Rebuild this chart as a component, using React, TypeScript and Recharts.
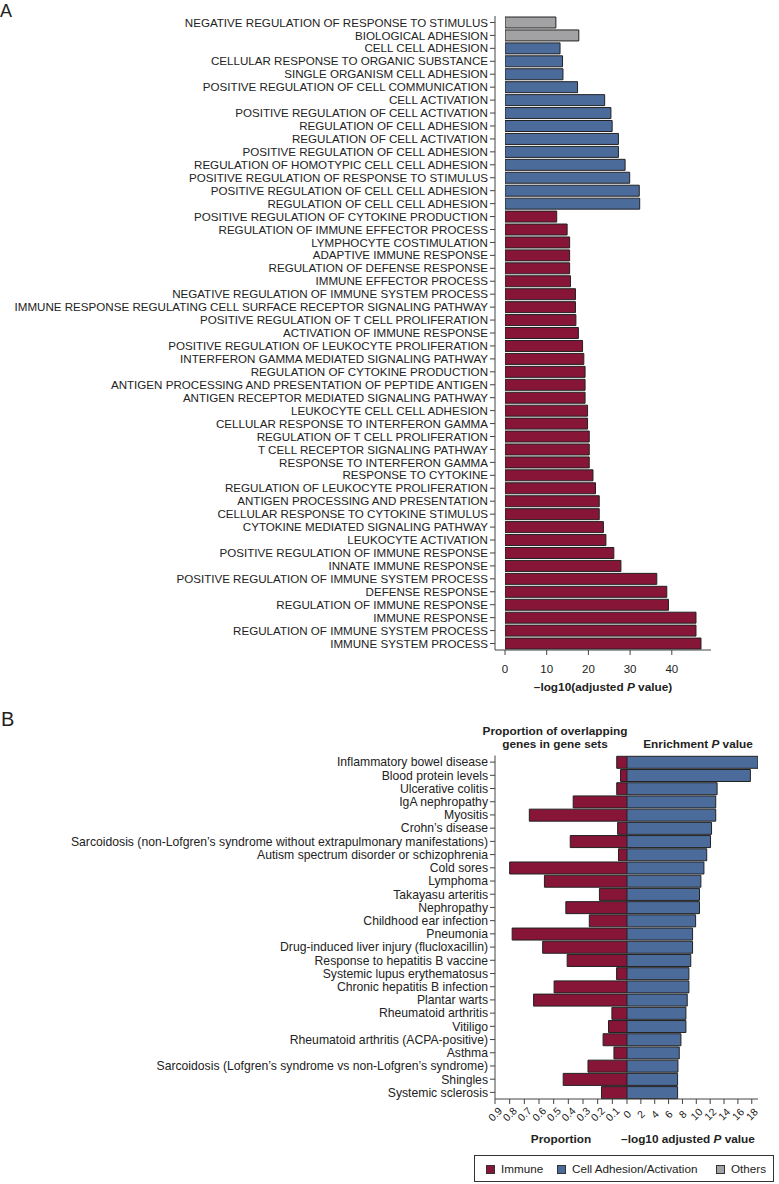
import React from 'react';
import { BarChart, Bar, XAxis, YAxis, Cell } from 'recharts';

const FONT = '"Liberation Sans", Arial, Helvetica, sans-serif';
const IMMUNE = '#861538';
const ADHESION = '#4b6b9b';
const OTHERS = '#a2a2a4';
const EDGE = '#222';
const AXIS = '#444';
const TEXT = '#222';

// Panel A: GO terms, top to bottom
const goTerms = [
  'NEGATIVE REGULATION OF RESPONSE TO STIMULUS',
  'BIOLOGICAL ADHESION',
  'CELL CELL ADHESION',
  'CELLULAR RESPONSE TO ORGANIC SUBSTANCE',
  'SINGLE ORGANISM CELL ADHESION',
  'POSITIVE REGULATION OF CELL COMMUNICATION',
  'CELL ACTIVATION',
  'POSITIVE REGULATION OF CELL ACTIVATION',
  'REGULATION OF CELL ADHESION',
  'REGULATION OF CELL ACTIVATION',
  'POSITIVE REGULATION OF CELL ADHESION',
  'REGULATION OF HOMOTYPIC CELL CELL ADHESION',
  'POSITIVE REGULATION OF RESPONSE TO STIMULUS',
  'POSITIVE REGULATION OF CELL CELL ADHESION',
  'REGULATION OF CELL CELL ADHESION',
  'POSITIVE REGULATION OF CYTOKINE PRODUCTION',
  'REGULATION OF IMMUNE EFFECTOR PROCESS',
  'LYMPHOCYTE COSTIMULATION',
  'ADAPTIVE IMMUNE RESPONSE',
  'REGULATION OF DEFENSE RESPONSE',
  'IMMUNE EFFECTOR PROCESS',
  'NEGATIVE REGULATION OF IMMUNE SYSTEM PROCESS',
  'IMMUNE RESPONSE REGULATING CELL SURFACE RECEPTOR SIGNALING PATHWAY',
  'POSITIVE REGULATION OF T CELL PROLIFERATION',
  'ACTIVATION OF IMMUNE RESPONSE',
  'POSITIVE REGULATION OF LEUKOCYTE PROLIFERATION',
  'INTERFERON GAMMA MEDIATED SIGNALING PATHWAY',
  'REGULATION OF CYTOKINE PRODUCTION',
  'ANTIGEN PROCESSING AND PRESENTATION OF PEPTIDE ANTIGEN',
  'ANTIGEN RECEPTOR MEDIATED SIGNALING PATHWAY',
  'LEUKOCYTE CELL CELL ADHESION',
  'CELLULAR RESPONSE TO INTERFERON GAMMA',
  'REGULATION OF T CELL PROLIFERATION',
  'T CELL RECEPTOR SIGNALING PATHWAY',
  'RESPONSE TO INTERFERON GAMMA',
  'RESPONSE TO CYTOKINE',
  'REGULATION OF LEUKOCYTE PROLIFERATION',
  'ANTIGEN PROCESSING AND PRESENTATION',
  'CELLULAR RESPONSE TO CYTOKINE STIMULUS',
  'CYTOKINE MEDIATED SIGNALING PATHWAY',
  'LEUKOCYTE ACTIVATION',
  'POSITIVE REGULATION OF IMMUNE RESPONSE',
  'INNATE IMMUNE RESPONSE',
  'POSITIVE REGULATION OF IMMUNE SYSTEM PROCESS',
  'DEFENSE RESPONSE',
  'REGULATION OF IMMUNE RESPONSE',
  'IMMUNE RESPONSE',
  'REGULATION OF IMMUNE SYSTEM PROCESS',
  'IMMUNE SYSTEM PROCESS',
];

const goLogP = [
  12.2, 17.7, 13.2, 13.8, 13.9, 17.4, 23.9, 25.4, 25.7, 27.2, 27.2, 28.8, 29.9, 32.2, 32.3,
  12.4, 14.9, 15.5, 15.5, 15.5, 15.7, 16.9, 16.9, 17.0, 17.6, 18.6, 18.9, 19.2, 19.2, 19.2,
  19.8, 19.8, 20.2, 20.2, 20.2, 21.1, 21.7, 22.6, 22.6, 23.6, 24.2, 26.1, 27.8, 36.4, 38.8,
  39.2, 45.8, 45.8, 47.0,
];

// O = others, C = cell adhesion/activation, I = immune
const goGroup = [
  'O', 'O', 'C', 'C', 'C', 'C', 'C', 'C', 'C', 'C', 'C', 'C', 'C', 'C', 'C',
  'I', 'I', 'I', 'I', 'I', 'I', 'I', 'I', 'I', 'I', 'I', 'I', 'I', 'I', 'I',
  'I', 'I', 'I', 'I', 'I', 'I', 'I', 'I', 'I', 'I', 'I', 'I', 'I', 'I', 'I',
  'I', 'I', 'I', 'I',
];

const goTicks = [0, 10, 20, 30, 40];

// Panel B: GWAS traits
const traits = [
  'Inflammatory bowel disease',
  'Blood protein levels',
  'Ulcerative colitis',
  'IgA nephropathy',
  'Myositis',
  'Crohn’s disease',
  'Sarcoidosis (non-Lofgren’s syndrome without extrapulmonary manifestations)',
  'Autism spectrum disorder or schizophrenia',
  'Cold sores',
  'Lymphoma',
  'Takayasu arteritis',
  'Nephropathy',
  'Childhood ear infection',
  'Pneumonia',
  'Drug-induced liver injury (flucloxacillin)',
  'Response to hepatitis B vaccine',
  'Systemic lupus erythematosus',
  'Chronic hepatitis B infection',
  'Plantar warts',
  'Rheumatoid arthritis',
  'Vitiligo',
  'Rheumatoid arthritis (ACPA-positive)',
  'Asthma',
  'Sarcoidosis (Lofgren’s syndrome vs non-Lofgren’s syndrome)',
  'Shingles',
  'Systemic sclerosis',
];

const traitProportion = [
  0.07, 0.044, 0.07, 0.367, 0.666, 0.064, 0.387, 0.058, 0.8, 0.563, 0.188, 0.417, 0.257,
  0.783, 0.575, 0.408, 0.071, 0.497, 0.637, 0.103, 0.126, 0.163, 0.089, 0.266, 0.435, 0.174,
];

const traitLogP = [
  18.9, 17.8, 13.0, 12.8, 12.8, 12.2, 12.05, 11.5, 11.1, 10.66, 10.46, 10.46, 9.9,
  9.46, 9.46, 9.2, 8.93, 8.93, 8.69, 8.5, 8.5, 7.78, 7.54, 7.35, 7.3, 7.3,
];

const proportionTicks = [0.1, 0.2, 0.3, 0.4, 0.5, 0.6, 0.7, 0.8, 0.9];
const enrichmentTicks = [0, 2, 4, 6, 8, 10, 12, 14, 16, 18];

const groupColor: Record<string, string> = { I: IMMUNE, C: ADHESION, O: OTHERS };

const goData = goTerms.map((name, i) => ({ name, value: goLogP[i], group: goGroup[i] }));
const traitData = traits.map((name, i) => ({
  name,
  proportion: traitProportion[i],
  logp: traitLogP[i],
}));

// single-line category label (the default tick wraps long names)
const makeCategoryTick = (size: number) => (props: any) => {
  const { x, y, payload } = props;
  return (
    <text x={x} y={y} dy="0.355em" textAnchor="end" fontSize={size} fill={TEXT} fontFamily={FONT}>
      {payload.value}
    </text>
  );
};
const GoTick = makeCategoryTick(11.6);
const TraitTick = makeCategoryTick(12.2);

const SlantTick = (props: any) => {
  const { x, y, payload } = props;
  return (
    <text
      x={x}
      y={y}
      transform={`rotate(-45 ${x} ${y})`}
      textAnchor="middle"
      dominantBaseline="central"
      fontSize={10.5}
      fill={TEXT}
      fontFamily={FONT}
    >
      {payload.value}
    </text>
  );
};

const abs = (left: number, top: number): React.CSSProperties => ({ position: 'absolute', left, top });

const boldText: React.CSSProperties = {
  position: 'absolute',
  fontSize: 11.8,
  fontWeight: 'bold',
  lineHeight: '13px',
  textAlign: 'center',
  color: TEXT,
  whiteSpace: 'nowrap',
};

const LegendItem = ({ left, color, label }: { left: number; color: string; label: string }) => (
  <>
    <div style={{ position: 'absolute', left, top: 9, width: 9, height: 9, background: color, border: '1px solid #333', boxSizing: 'border-box' }} />
    <div style={{ position: 'absolute', left: left + 15, top: 6, fontSize: 11.7, lineHeight: '14px', color: TEXT, whiteSpace: 'nowrap' }}>{label}</div>
  </>
);

export default function App() {
  return (
    <div style={{ position: 'absolute', left: 0, top: 0, width: 779, height: 1184, background: '#fff', fontFamily: FONT }}>
      <div style={{ ...abs(0, 1), fontSize: 18, lineHeight: '20px', color: TEXT }}>A</div>
      <div style={{ ...abs(1, 708), fontSize: 20, lineHeight: '22px', color: TEXT }}>B</div>

      {/* Panel A */}
      <div style={abs(0, 0)}>
        <BarChart
          width={779}
          height={700}
          data={goData}
          layout="vertical"
          margin={{ top: 16, right: 68, bottom: 0, left: 0 }}
          barCategoryGap={1}
        >
          <XAxis
            type="number"
            domain={[0, 49.4]}
            allowDataOverflow
            ticks={goTicks}
            interval={0}
            padding={{ left: 10, right: 0 }}
            height={50}
            tickSize={5}
            tickMargin={10}
            axisLine={{ stroke: AXIS }}
            tickLine={{ stroke: AXIS }}
            tick={{ fontSize: 11.5, fill: TEXT, fontFamily: FONT }}
          />
          <YAxis
            type="category"
            dataKey="name"
            width={495}
            interval={0}
            tickSize={5}
            axisLine={{ stroke: AXIS }}
            tickLine={{ stroke: AXIS }}
            tick={<GoTick />}
          />
          <Bar dataKey="value" stroke={EDGE} strokeWidth={1} isAnimationActive={false}>
            {goData.map((d, i) => (
              <Cell key={`go-${i}`} fill={groupColor[d.group]} />
            ))}
          </Bar>
        </BarChart>
      </div>
      <div style={{ ...boldText, left: 503, top: 681, width: 200 }}>
        –log10(adjusted <i>P</i> value)
      </div>

      {/* Panel B titles */}
      <div style={{ ...boldText, left: 455, top: 725, width: 200 }}>
        Proportion of overlapping
        <br />
        genes in gene sets
      </div>
      <div style={{ ...boldText, left: 598, top: 738, width: 200 }}>
        Enrichment <i>P</i> value
      </div>

      {/* Panel B left: proportion */}
      <div style={abs(0, 700)}>
        <BarChart
          width={627}
          height={439}
          data={traitData}
          layout="vertical"
          margin={{ top: 55.5, right: 0, bottom: 0, left: 0 }}
          barCategoryGap={0.8}
        >
          <XAxis
            type="number"
            reversed
            domain={[0, 0.9]}
            allowDataOverflow
            ticks={proportionTicks}
            interval={0}
            height={40}
            tickSize={5}
            tickMargin={10}
            axisLine={{ stroke: AXIS }}
            tickLine={{ stroke: AXIS }}
            tick={<SlantTick />}
          />
          <YAxis
            type="category"
            dataKey="name"
            width={495}
            interval={0}
            tickSize={5}
            axisLine={{ stroke: AXIS }}
            tickLine={{ stroke: AXIS }}
            tick={<TraitTick />}
          />
          <Bar dataKey="proportion" fill={IMMUNE} stroke={EDGE} strokeWidth={1} isAnimationActive={false} />
        </BarChart>
      </div>

      {/* Panel B right: enrichment (starts a bit left so the rotated 0 label fits) */}
      <div style={abs(607, 700)}>
        <BarChart
          width={172}
          height={439}
          data={traitData}
          layout="vertical"
          margin={{ top: 55.5, right: 21, bottom: 0, left: 20 }}
          barCategoryGap={0.8}
        >
          <XAxis
            type="number"
            domain={[0, 18.9]}
            allowDataOverflow
            ticks={enrichmentTicks}
            interval={0}
            height={40}
            tickSize={5}
            tickMargin={10}
            axisLine={{ stroke: AXIS }}
            tickLine={{ stroke: AXIS }}
            tick={<SlantTick />}
          />
          <YAxis type="category" dataKey="name" hide />
          <Bar dataKey="logp" fill={ADHESION} stroke={EDGE} strokeWidth={1} isAnimationActive={false} />
        </BarChart>
      </div>

      <div style={{ ...boldText, left: 461, top: 1133, width: 200 }}>Proportion</div>
      <div style={{ ...boldText, left: 588, top: 1133, width: 200 }}>
        –log10 adjusted <i>P</i> value
      </div>

      {/* Legend */}
      <div style={{ position: 'absolute', left: 474, top: 1155, width: 300, height: 27, border: '1px solid #333', boxSizing: 'border-box' }}>
        <LegendItem left={11} color={IMMUNE} label="Immune" />
        <LegendItem left={82} color={ADHESION} label="Cell Adhesion/Activation" />
        <LegendItem left={241} color={OTHERS} label="Others" />
      </div>
    </div>
  );
}
